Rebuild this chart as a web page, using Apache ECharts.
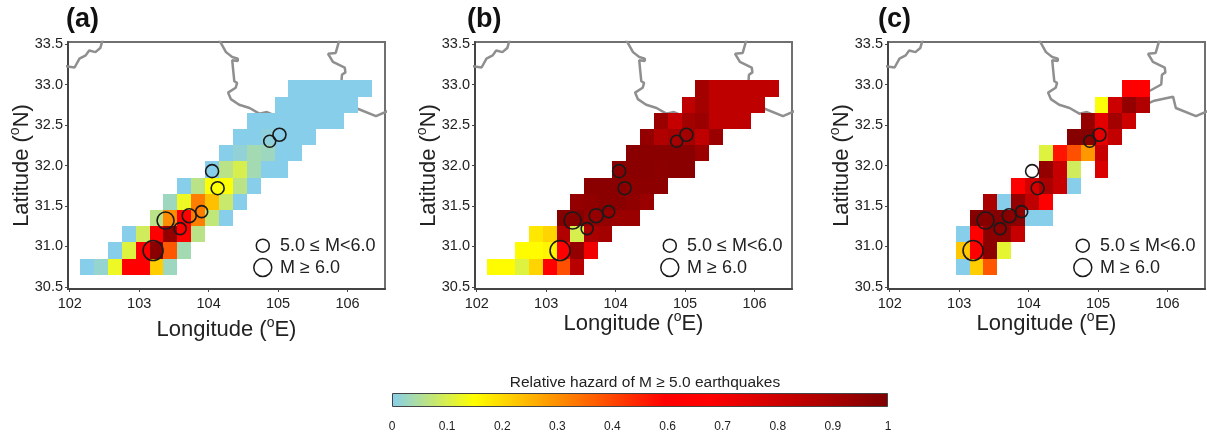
<!DOCTYPE html>
<html>
<head>
<meta charset="utf-8">
<title>Relative hazard of M 5.0 earthquakes</title>
<script src="https://cdn.jsdelivr.net/npm/echarts@6/dist/echarts.min.js"></script>
<style>
  html, body { margin: 0; padding: 0; background: #fff; }
  #chart { width: 1207px; height: 436px; }
</style>
</head>
<body>
<div id="chart"></div>
<script>
// Hazard cells: one list per latitude row, south to north. Values are the position along the colour bar (0-1).
const rowLats = [30.75, 30.95, 31.15, 31.35, 31.55, 31.75, 31.95, 32.15, 32.35, 32.55, 32.75, 32.95];

const rowStartsAB = [102.25, 102.65, 102.85, 103.25, 103.45, 103.65, 104.05, 104.25, 104.45, 104.65, 105.05, 105.25];
const rowStartsC = [103.05, 103.05, 103.05, 103.25, 103.45, 103.85, 104.25, 104.25, 104.65, 104.85, 105.05, 105.45];

const hazardA = [
  [0, 0.02, 0.14, 0.6, 0.62, 0.24, 0.03],
  [0, 0.12, 0.62, 0.97, 0.42, 0.04],
  [0, 0.1, 0.62, 0.94, 0.64, 0.07],
  [0.07, 0.34, 0.6, 0.36, 0.08, 0],
  [0.03, 0.14, 0.36, 0.26, 0.09, 0],
  [0, 0.07, 0.16, 0.16, 0.07, 0],
  [0, 0.07, 0.11, 0.04, 0, 0],
  [0, 0.015, 0.04, 0.03, 0, 0],
  [0, 0, 0.01, 0, 0, 0],
  [0, 0, 0, 0, 0, 0, 0],
  [0, 0, 0, 0, 0, 0],
  [0, 0, 0, 0, 0, 0]
];

const hazardB = [
  [0.17, 0.17, 0.12, 0.23, 0.62, 0.43, 0.84],
  [0.17, 0.17, 0.18, 0.62, 0.94, 0.68],
  [0.2, 0.23, 0.86, 0.11, 0.88, 0.9],
  [0.98, 0.98, 0.94, 0.94, 0.92, 0.92],
  [0.94, 0.95, 0.97, 0.97, 0.95, 0.92],
  [0.97, 0.97, 0.97, 0.96, 0.96, 0.96],
  [0.97, 0.97, 0.97, 0.96, 0.97, 0.97],
  [0.97, 0.97, 0.97, 0.97, 0.97, 0.92],
  [0.94, 0.86, 0.89, 0.9, 0.82, 0.92],
  [0.92, 0.8, 0.9, 0.92, 0.82, 0.82, 0.82],
  [0.82, 0.9, 0.82, 0.82, 0.82, 0.82],
  [0.9, 0.82, 0.82, 0.82, 0.82, 0.82]
];

const hazardC = [
  [0, 0.24, 0.42],
  [0.25, 0.62, 0.96, 0.13],
  [0, 0.62, 0.96, 0.96, 0.8],
  [0.98, 0.98, 0.98, 0.96, 0, 0],
  [0.88, 0, 0.94, 0.82, 0.62],
  [0.64, 0.76, 0.88, 0.8, 0],
  [0.94, 0.8, 0.1, null, 0.74],
  [0.12, 0.52, 0.43, 0.32, 0.8],
  [0.98, 0.98, 0.72, 0.81],
  [0.94, 0.72, 0.9, 0.78],
  [0.16, 0.78, 0.94, 0.86],
  [0.64, 0.64]
];

// Earthquakes
const quakeLons = [103.2, 103.38, 103.59, 103.72, 103.9, 104.13, 104.05, 104.88, 105.02];
const quakeLats = [30.95, 31.32, 31.22, 31.38, 31.43, 31.72, 31.93, 32.30, 32.38];
const quakeSizes = [20, 17, 12, 14, 12, 13, 13, 12, 13];

// Magnitude key
const keyLabels = ['5.0 ≤ M<6.0', 'M ≥ 6.0'];
const keyLons = [104.78, 104.78];
const keyLats = [31.01, 30.74];
const keySizes = [13, 18];

// Province boundaries
const boundaryWest = [[101.9, 33.23], [102.07, 33.21], [102.14, 33.32], [102.23, 33.36], [102.28, 33.42], [102.37, 33.40], [102.44, 33.45], [102.49, 33.6]];
const boundaryMiddle = [[104.12, 33.6], [104.25, 33.40], [104.34, 33.34], [104.42, 33.32], [104.42, 33.29], [104.34, 33.30], [104.35, 33.21], [104.37, 33.04], [104.41, 33.02], [104.39, 32.96], [104.28, 32.90], [104.32, 32.82], [104.44, 32.75], [104.59, 32.71], [104.73, 32.64], [104.84, 32.66], [104.95, 32.62]];
const boundaryNorthEast = [[105.9, 33.6], [105.83, 33.39], [105.72, 33.38], [105.79, 33.28], [105.96, 33.21], [105.97, 33.15], [105.92, 33.12], [105.91, 33.00], [105.74, 32.92], [105.6, 32.84]];
const boundaryEast = [[105.6, 32.72], [105.81, 32.80], [106.08, 32.85], [106.12, 32.71], [106.41, 32.61], [106.6, 32.68]];

// Colour bar
const hazardTicks = ['0', '0.1', '0.2', '0.3', '0.4', '0.6', '0.7', '0.8', '0.9', '1'];
const colorPositions = [0, 0.165, 0.55, 0.64, 1];
const colorValues = ['#87ceeb', '#ffff00', '#ff0000', '#ff0000', '#7f0000'];

const lonTicks = [102, 103, 104, 105, 106];
const latTicks = [30.5, 31, 31.5, 32, 32.5, 33, 33.5];

const panelNames = ['(a)', '(b)', '(c)'];
const panelHazards = [hazardA, hazardB, hazardC];
const panelStarts = [rowStartsAB, rowStartsAB, rowStartsC];
const panelLefts = [68, 475, 888];
const titleLefts = [61, 462, 873];
const lonNameGaps = [27, 21, 21];

const FONT = '"Liberation Sans", Arial, sans-serif';
const TEXT = '#222';

function hazardColor(v) {
  for (let i = 1; i < colorPositions.length; i++) {
    if (v <= colorPositions[i]) {
      const t = (v - colorPositions[i - 1]) / (colorPositions[i] - colorPositions[i - 1]);
      return echarts.color.lerp(t, [colorValues[i - 1], colorValues[i]]);
    }
  }
  return colorValues[colorValues.length - 1];
}

function buildCells(hazard, starts) {
  const cells = [];
  hazard.forEach((row, r) => {
    row.forEach((v, c) => {
      if (v !== null) cells.push([starts[r] + 0.2 * c, rowLats[r], v]);
    });
  });
  return cells;
}

function renderCell(params, api) {
  const lon = api.value(0);
  const lat = api.value(1);
  const a = api.coord([lon - 0.1, lat + 0.1]);
  const b = api.coord([lon + 0.1, lat - 0.1]);
  const x = Math.round(a[0]);
  const y = Math.round(a[1]);
  return {
    type: 'rect',
    shape: { x: x, y: y, width: Math.round(b[0]) - x, height: Math.round(b[1]) - y },
    style: { fill: hazardColor(api.value(2)) }
  };
}

const axisNameRich = {
  n: { fontFamily: FONT, fontSize: 22, color: TEXT, lineHeight: 28 },
  s: { fontFamily: FONT, fontSize: 14, color: TEXT, lineHeight: 28, verticalAlign: 'top', padding: [0, 0, 8, 0] }
};

const option = {
  animation: false,
  textStyle: { fontFamily: FONT },
  title: [],
  grid: [],
  xAxis: [],
  yAxis: [],
  series: []
};

panelNames.forEach((name, i) => {
  option.title.push({
    text: name,
    left: titleLefts[i],
    top: 1,
    textStyle: { fontFamily: FONT, fontSize: 27, fontWeight: 'bold', color: '#111' }
  });
  option.grid.push({
    left: panelLefts[i], top: 42, width: 317, height: 247,
    show: true, borderColor: '#707070', borderWidth: 2, backgroundColor: '#fff'
  });
  option.xAxis.push({
    type: 'value',
    gridIndex: i,
    min: 101.975,
    max: 106.54,
    name: 'Longitude ({s|o}E)',
    nameLocation: 'middle',
    nameGap: lonNameGaps[i],
    nameMoveOverlap: false,
    nameTextStyle: { fontFamily: FONT, fontSize: 22, color: TEXT, rich: axisNameRich },
    axisLine: { onZero: false, lineStyle: { color: '#444', width: 2 } },
    axisTick: { length: 3, customValues: lonTicks, lineStyle: { color: '#444' } },
    axisLabel: { customValues: lonTicks, fontSize: 14.5, color: TEXT, margin: 7 },
    splitLine: { show: false }
  });
  option.yAxis.push({
    type: 'value',
    gridIndex: i,
    min: 30.475,
    max: 33.525,
    name: 'Latitude ({s|o}N)',
    nameLocation: 'middle',
    nameGap: 32,
    nameMoveOverlap: false,
    nameTextStyle: { fontFamily: FONT, fontSize: 22, color: TEXT, rich: axisNameRich },
    axisLine: { onZero: false, lineStyle: { color: '#444', width: 2 } },
    axisTick: { length: 3, customValues: latTicks, lineStyle: { color: '#444' } },
    axisLabel: { customValues: latTicks, fontSize: 14.5, color: TEXT, margin: 5, formatter: (v) => v.toFixed(1) },
    splitLine: { show: false }
  });

  [boundaryWest, boundaryMiddle, boundaryNorthEast, boundaryEast].forEach((line) => {
    option.series.push({
      type: 'line',
      xAxisIndex: i,
      yAxisIndex: i,
      data: line,
      showSymbol: false,
      clip: true,
      z: 1,
      silent: true,
      lineStyle: { color: '#8f8f8f', width: 2.5 }
    });
  });

  option.series.push({
    type: 'custom',
    name: 'Relative hazard ' + name,
    xAxisIndex: i,
    yAxisIndex: i,
    data: buildCells(panelHazards[i], panelStarts[i]),
    encode: { x: 0, y: 1 },
    renderItem: renderCell,
    z: 2
  });

  option.series.push({
    type: 'scatter',
    name: 'Earthquakes ' + name,
    xAxisIndex: i,
    yAxisIndex: i,
    data: quakeLons.map((lon, k) => [lon, quakeLats[k]]),
    symbolSize: (v, p) => quakeSizes[p.dataIndex],
    itemStyle: { color: 'rgba(0,0,0,0)', borderColor: '#1a1a1a', borderWidth: 1.6, opacity: 1 },
    z: 3
  });

  option.series.push({
    type: 'scatter',
    name: 'Magnitude key ' + name,
    xAxisIndex: i,
    yAxisIndex: i,
    data: keyLons.map((lon, k) => ({
      value: [lon, keyLats[k]],
      symbolSize: keySizes[k],
      label: { distance: k === 0 ? 10 : 7.5 }
    })),
    label: {
      show: true,
      position: 'right',
      fontSize: 18,
      color: TEXT,
      formatter: (p) => keyLabels[p.dataIndex]
    },
    itemStyle: { color: 'rgba(0,0,0,0)', borderColor: '#1a1a1a', borderWidth: 1.5, opacity: 1 },
    z: 3
  });
});

// Colour bar as a fourth small grid
option.title.push({
  text: 'Relative hazard of M ≥ 5.0 earthquakes',
  left: 640,
  top: 370,
  textAlign: 'center',
  textStyle: { fontFamily: FONT, fontSize: 15.5, fontWeight: 'normal', color: TEXT }
});
option.grid.push({ left: 392, top: 393, width: 496, height: 14 });
option.xAxis.push({
  type: 'value',
  gridIndex: 3,
  min: 0,
  max: 9,
  interval: 1,
  axisLine: { onZero: false, lineStyle: { color: '#444', width: 1 } },
  axisTick: { length: 3, lineStyle: { color: '#444' } },
  axisLabel: { fontSize: 12, color: TEXT, margin: 14, formatter: (v) => hazardTicks[v] },
  splitLine: { show: false }
});
option.yAxis.push({
  type: 'category',
  gridIndex: 3,
  data: [''],
  axisLine: { show: false },
  axisTick: { show: false },
  axisLabel: { show: false }
});
option.series.push({
  type: 'bar',
  name: 'Colour bar',
  xAxisIndex: 3,
  yAxisIndex: 3,
  data: [hazardTicks.length - 1],
  barWidth: '100%',
  silent: true,
  itemStyle: {
    borderColor: '#444',
    borderWidth: 1,
    color: new echarts.graphic.LinearGradient(0, 0, 1, 0, colorPositions.map((p, i) => ({ offset: p, color: colorValues[i] })))
  }
});

const chartInstance = echarts.init(document.getElementById('chart'));
chartInstance.setOption(option);
</script>
</body>
</html>
